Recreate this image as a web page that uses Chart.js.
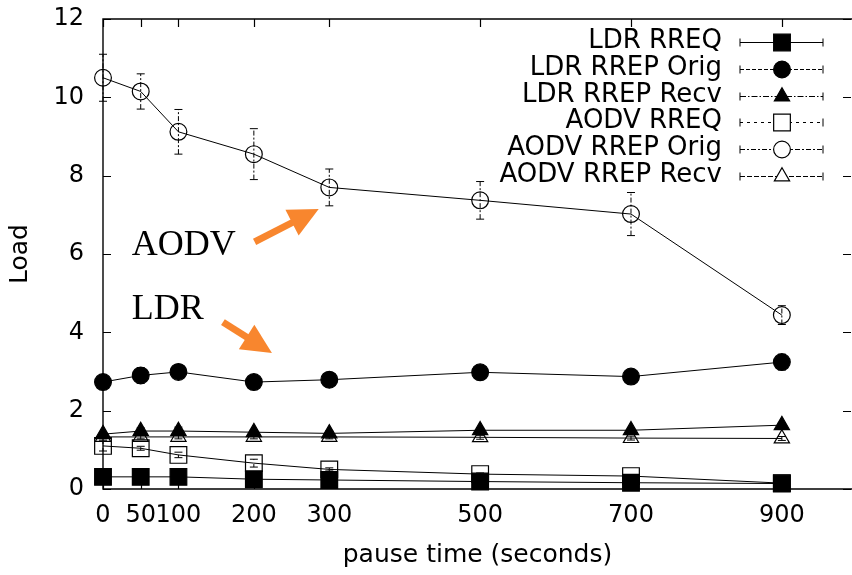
<!DOCTYPE html>
<html>
<head>
<meta charset="utf-8">
<script src="https://cdn.jsdelivr.net/npm/chart.js@4/dist/chart.umd.min.js"></script>
<style>
  html, body { margin: 0; padding: 0; background: #ffffff; }
  #wrap { width: 852px; height: 575px; }
</style>
</head>
<body>
<div id="wrap"><canvas id="chart" width="852" height="575"></canvas></div>
<script>
// Pause times (seconds) on the x axis and the tick labels shown there
const pauseTimes = [0, 50, 100, 200, 300, 500, 700, 900];
const xTickValues = [0, 50, 100, 200, 300, 500, 700, 900];
const yTickStep = 2;

// Control-packet load per protocol / packet type, with error-bar half widths
const ldrRreq         = [0.31, 0.31, 0.31, 0.25, 0.23, 0.19, 0.16, 0.14];
const ldrRreqErr      = [0.03, 0.03, 0.03, 0.03, 0.03, 0.02, 0.02, 0.02];
const ldrRrepOrig     = [2.73, 2.90, 2.99, 2.73, 2.79, 2.98, 2.87, 3.24];
const ldrRrepOrigErr  = [0.10, 0.20, 0.12, 0.10, 0.10, 0.15, 0.10, 0.20];
const ldrRrepRecv     = [1.40, 1.48, 1.48, 1.45, 1.42, 1.50, 1.50, 1.63];
const ldrRrepRecvErr  = [0.06, 0.08, 0.10, 0.06, 0.06, 0.06, 0.06, 0.06];
const aodvRreq        = [1.10, 1.04, 0.87, 0.66, 0.50, 0.38, 0.33, 0.15];
const aodvRreqErr     = [0.13, 0.05, 0.07, 0.10, 0.04, 0.03, 0.03, 0.02];
const aodvRrepOrig    = [10.50, 10.15, 9.12, 8.55, 7.70, 7.37, 7.02, 4.44];
const aodvRrepOrigErr = [0.60, 0.45, 0.57, 0.65, 0.47, 0.48, 0.55, 0.24];
const aodvRrepRecv    = [1.33, 1.33, 1.33, 1.33, 1.33, 1.32, 1.30, 1.29];
const aodvRrepRecvErr = [0.05, 0.05, 0.05, 0.05, 0.05, 0.05, 0.05, 0.05];

const seriesLabels = ['LDR RREQ', 'LDR RREP Orig', 'LDR RREP Recv',
                      'AODV RREQ', 'AODV RREP Orig', 'AODV RREP Recv'];
const seriesValues = [ldrRreq, ldrRrepOrig, ldrRrepRecv, aodvRreq, aodvRrepOrig, aodvRrepRecv];
const seriesErrors = [ldrRreqErr, ldrRrepOrigErr, ldrRrepRecvErr, aodvRreqErr, aodvRrepOrigErr, aodvRrepRecvErr];

// Marker and line-type styling, one per series
const seriesStyles = [
  { point: 'rect',     radius: 11.8, filled: true,  dash: [] },
  { point: 'circle',   radius: 8.4,  filled: true,  dash: [4, 2] },
  { point: 'triangle', radius: 8.8,  filled: true,  dash: [6, 2, 1.5, 2] },
  { point: 'rect',     radius: 11.8, filled: false, dash: [3, 4] },
  { point: 'circle',   radius: 8.4,  filled: false, dash: [5, 2, 2, 2] },
  { point: 'triangle', radius: 8.8,  filled: false, dash: [5, 2] }
];

const INK = '#000000';
const ARROW = 'rgb(248,134,46)';
const SANS = '"DejaVu Sans", "Liberation Sans", sans-serif';
const SERIF = '"Liberation Serif", "DejaVu Serif", serif';

// Text callouts with arrows, placed in data coordinates
const callouts = [
  { text: 'AODV', at: [38, 5.97], tail: [201, 6.31], tip: [286, 7.15] },
  { text: 'LDR',  at: [38, 4.34], tail: [159, 4.26], tip: [224, 3.47] }
];

const TICK_LEN = 8;

// Box border with inward tick marks on all four sides
const framePlugin = {
  id: 'frame',
  beforeDatasetsDraw(chart) {
    const { ctx, chartArea: a, scales: { x, y } } = chart;
    ctx.save();
    ctx.strokeStyle = INK;
    ctx.lineWidth = 1.4;
    ctx.beginPath();
    ctx.moveTo(a.right + 2, a.top); ctx.lineTo(a.left, a.top);
    ctx.lineTo(a.left, a.bottom); ctx.lineTo(a.right + 2, a.bottom);
    ctx.stroke();
    ctx.lineWidth = 1.2;
    ctx.beginPath();
    x.ticks.forEach(t => {
      const px = Math.round(x.getPixelForValue(t.value)) + 0.5;
      ctx.moveTo(px, a.bottom); ctx.lineTo(px, a.bottom - TICK_LEN);
      ctx.moveTo(px, a.top); ctx.lineTo(px, a.top + TICK_LEN);
    });
    y.ticks.forEach(t => {
      const py = Math.round(y.getPixelForValue(t.value)) + 0.5;
      ctx.moveTo(a.left, py); ctx.lineTo(a.left + TICK_LEN, py);
      ctx.moveTo(a.right - 1, py); ctx.lineTo(a.right - 1 - TICK_LEN, py);
    });
    ctx.stroke();
    ctx.restore();
  }
};

// Vertical error bars with small caps, dashed like each series' line type
const errorBarPlugin = {
  id: 'errorBars',
  beforeDatasetsDraw(chart) {
    const { ctx, scales: { x, y } } = chart;
    ctx.save();
    ctx.strokeStyle = INK;
    ctx.lineWidth = 1;
    seriesValues.forEach((vals, i) => {
      const errs = seriesErrors[i];
      vals.forEach((v, j) => {
        const px = x.getPixelForValue(pauseTimes[j]);
        const yHi = y.getPixelForValue(v + errs[j]);
        const yLo = y.getPixelForValue(v - errs[j]);
        ctx.setLineDash(seriesStyles[i].dash);
        ctx.beginPath();
        ctx.moveTo(px, yLo); ctx.lineTo(px, yHi);
        ctx.stroke();
        ctx.setLineDash([]);
        ctx.beginPath();
        ctx.moveTo(px - 4, yHi); ctx.lineTo(px + 4, yHi);
        ctx.moveTo(px - 4, yLo); ctx.lineTo(px + 4, yLo);
        ctx.stroke();
      });
    });
    ctx.restore();
  }
};

// Key in the upper right: label, then a line sample with end caps and the marker
const keyPlugin = {
  id: 'key',
  afterDraw(chart) {
    const { ctx } = chart;
    const textRight = 722, sampleL = 740, sampleR = 823, markX = 782;
    const rowTop = 42, rowStep = 26.8;
    ctx.save();
    ctx.font = '26px ' + SANS;
    ctx.textAlign = 'right';
    ctx.textBaseline = 'middle';
    seriesLabels.forEach((label, i) => {
      const ry = Math.round(rowTop + i * rowStep) + 0.5;
      const st = seriesStyles[i];
      ctx.fillStyle = INK;
      ctx.fillText(label, textRight, ry - 1);
      ctx.strokeStyle = INK;
      ctx.lineWidth = 1;
      ctx.setLineDash(st.dash);
      ctx.beginPath();
      ctx.moveTo(sampleL, ry); ctx.lineTo(sampleR, ry);
      ctx.stroke();
      ctx.setLineDash([]);
      ctx.beginPath();
      ctx.moveTo(sampleL, ry - 4); ctx.lineTo(sampleL, ry + 4);
      ctx.moveTo(sampleR, ry - 4); ctx.lineTo(sampleR, ry + 4);
      ctx.stroke();
      ctx.fillStyle = st.filled ? INK : '#ffffff';
      ctx.lineWidth = 1.2;
      Chart.helpers.drawPoint(ctx, {
        pointStyle: st.point, radius: st.radius, rotation: 0, borderWidth: 1.2
      }, markX, ry);
    });
    ctx.restore();
  }
};

// Serif callout words with orange arrows
const calloutPlugin = {
  id: 'callouts',
  afterDraw(chart) {
    const { ctx, scales: { x, y } } = chart;
    ctx.save();
    callouts.forEach(c => {
      ctx.font = '36px ' + SERIF;
      ctx.fillStyle = INK;
      ctx.textAlign = 'left';
      ctx.textBaseline = 'alphabetic';
      ctx.fillText(c.text, x.getPixelForValue(c.at[0]), y.getPixelForValue(c.at[1]));

      const tx = x.getPixelForValue(c.tail[0]), ty = y.getPixelForValue(c.tail[1]);
      const hx = x.getPixelForValue(c.tip[0]),  hy = y.getPixelForValue(c.tip[1]);
      const len = Math.hypot(hx - tx, hy - ty);
      const ux = (hx - tx) / len, uy = (hy - ty) / len;
      const headLen = 30, headHalf = 14.5;
      const bx = hx - ux * headLen, by = hy - uy * headLen;
      ctx.strokeStyle = ARROW;
      ctx.fillStyle = ARROW;
      ctx.lineWidth = 7;
      ctx.lineCap = 'butt';
      ctx.beginPath();
      ctx.moveTo(tx, ty); ctx.lineTo(bx + ux * 2, by + uy * 2);
      ctx.stroke();
      ctx.beginPath();
      ctx.moveTo(hx, hy);
      ctx.lineTo(bx - uy * headHalf, by + ux * headHalf);
      ctx.lineTo(bx + uy * headHalf, by - ux * headHalf);
      ctx.closePath();
      ctx.fill();
    });
    ctx.restore();
  }
};

const datasets = seriesLabels.map((label, i) => {
  const st = seriesStyles[i];
  return {
    label,
    data: pauseTimes.map((t, j) => ({ x: t, y: seriesValues[i][j] })),
    borderColor: INK,
    backgroundColor: INK,
    borderWidth: 1,
    tension: 0,
    fill: false,
    clip: false,
    pointStyle: st.point,
    pointRadius: st.radius,
    pointHoverRadius: st.radius,
    pointBorderWidth: 1.2,
    pointBorderColor: INK,
    pointBackgroundColor: st.filled ? INK : 'rgba(0,0,0,0)'
  };
});

new Chart(document.getElementById('chart'), {
  type: 'line',
  data: { datasets },
  options: {
    responsive: false,
    animation: false,
    devicePixelRatio: 1,
    layout: { autoPadding: false, padding: { top: 19, right: 0, bottom: 0, left: 0 } },
    plugins: { legend: { display: false }, tooltip: { enabled: false } },
    scales: {
      x: {
        type: 'linear',
        position: 'bottom',
        min: 0,
        max: 993,
        afterBuildTicks: s => { s.ticks = xTickValues.map(v => ({ value: v })); },
        afterFit: s => { s.height = 86; s.paddingLeft = 0; s.paddingRight = 0; },
        grid: { display: false, drawTicks: false },
        border: { display: false },
        ticks: {
          autoSkip: false,
          maxRotation: 0,
          padding: 12,
          color: INK,
          font: { family: SANS, size: 24 },
          callback: v => String(v)
        },
        title: {
          display: true,
          text: 'pause time (seconds)',
          color: INK,
          font: { family: SANS, size: 25 },
          padding: { top: 0, bottom: 5 }
        }
      },
      y: {
        type: 'linear',
        position: 'left',
        min: 0,
        max: 12,
        afterFit: s => { s.width = 103; s.paddingTop = 0; s.paddingBottom = 0; },
        grid: { display: false, drawTicks: false },
        border: { display: false },
        ticks: {
          stepSize: yTickStep,
          padding: 19,
          color: INK,
          font: { family: SANS, size: 24 },
          callback: v => String(v)
        },
        title: {
          display: true,
          text: 'Load',
          color: INK,
          font: { family: SANS, size: 25 },
          padding: { top: 5, bottom: 0 }
        }
      }
    }
  },
  plugins: [framePlugin, errorBarPlugin, keyPlugin, calloutPlugin]
});
</script>
</body>
</html>
